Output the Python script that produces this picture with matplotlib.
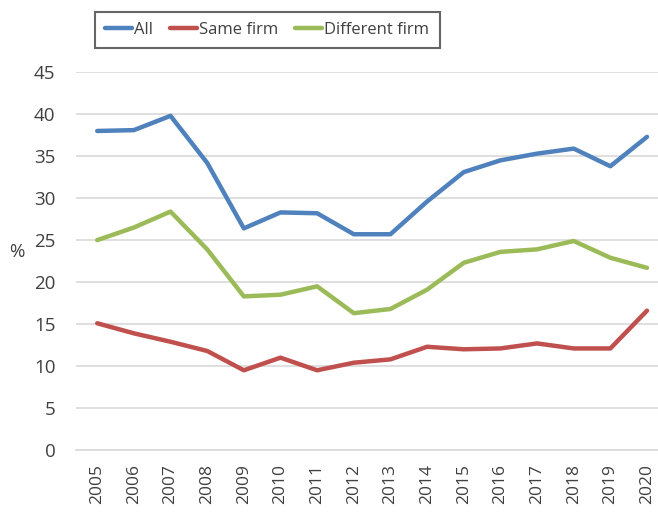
import matplotlib.pyplot as plt

plt.rcParams['font.family'] = ['Open Sans', 'DejaVu Sans']

years = [str(y) for y in range(2005, 2021)]
all_jobs = [38.0, 38.1, 39.8, 34.2, 26.4, 28.3, 28.2, 25.7, 25.7, 29.6,
            33.1, 34.5, 35.3, 35.9, 33.8, 37.3]
same_firm = [15.1, 13.9, 12.9, 11.8, 9.5, 11.0, 9.5, 10.4, 10.8, 12.3,
             12.0, 12.1, 12.7, 12.1, 12.1, 16.6]
diff_firm = [25.0, 26.5, 28.4, 23.9, 18.3, 18.5, 19.5, 16.3, 16.8, 19.1,
             22.3, 23.6, 23.9, 24.9, 22.9, 21.7]
yticks = [0, 5, 10, 15, 20, 25, 30, 35, 40, 45]

text_col = '#404040'

fig = plt.figure(figsize=(6.58, 5.12), dpi=100)
ax = fig.add_axes([0.116, 0.121, 0.884, 0.738])

x = range(len(years))
ax.plot(x, all_jobs, color='#4F81BD', lw=3.2, label='All', solid_capstyle='round')
ax.plot(x, same_firm, color='#C0504D', lw=3.2, label='Same firm', solid_capstyle='round')
ax.plot(x, diff_firm, color='#9BBB59', lw=3.2, label='Different firm', solid_capstyle='round')

ax.set_ylim(0, 45)
ax.set_xlim(-0.57, 15.3)
ax.set_yticks(yticks)
ax.set_xticks(list(x))
ax.set_xticklabels(years, rotation=90)
ax.tick_params(axis='y', length=0, labelsize=13.5, colors=text_col, pad=15)
ax.tick_params(axis='x', length=0, labelsize=12.5, colors=text_col, pad=10)
ax.yaxis.grid(True, color='#D9D9D9', lw=1.2)
ax.set_axisbelow(True)
for s in ['top', 'right', 'left']:
    ax.spines[s].set_visible(False)
ax.spines['bottom'].set_color('#D9D9D9')
ax.spines['bottom'].set_linewidth(1.2)

ax.set_ylabel('%', rotation=0, fontsize=13.5, color=text_col)
ax.yaxis.set_label_coords(-0.103, 0.5)

leg = fig.legend(loc='upper center', bbox_to_anchor=(0.406, 0.987), ncol=3,
                 fontsize=12, frameon=True, fancybox=False, handlelength=1.6,
                 handletextpad=0.15, columnspacing=1.0, borderpad=0.62,
                 borderaxespad=0.3)
leg.get_frame().set_edgecolor('#404040')
leg.get_frame().set_linewidth(1.5)
for t in leg.get_texts():
    t.set_color(text_col)

fig.savefig('out.png', dpi=100)
